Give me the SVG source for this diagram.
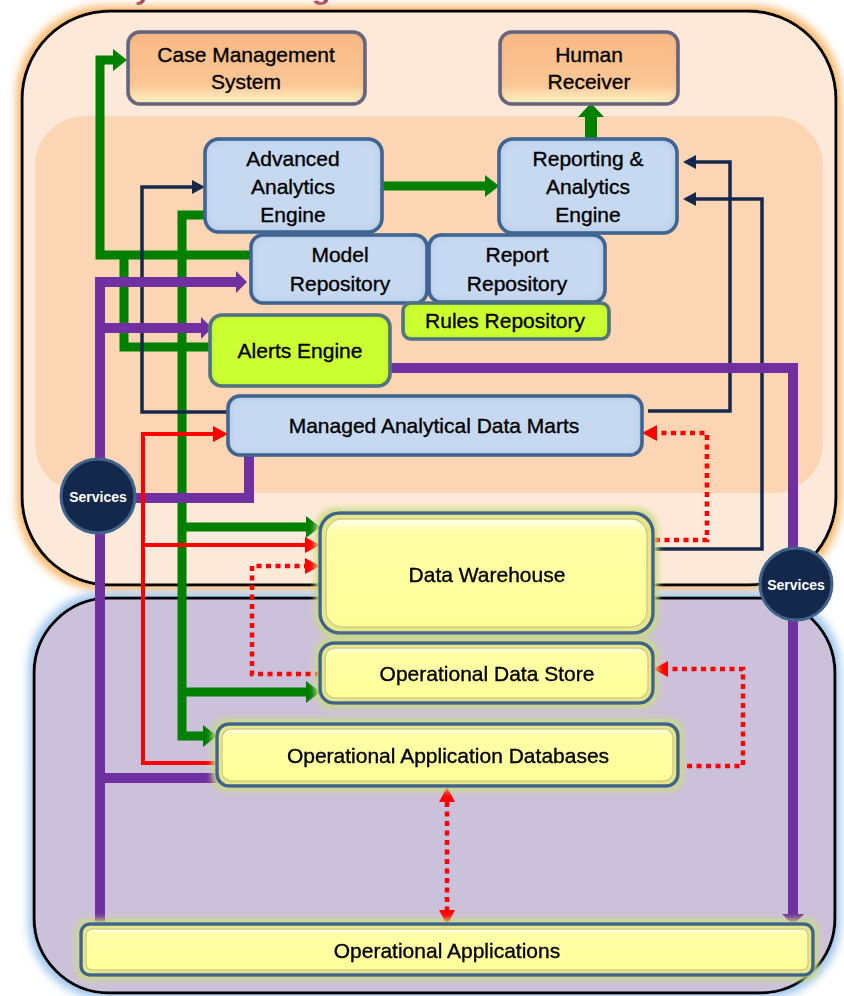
<svg xmlns="http://www.w3.org/2000/svg" width="844" height="996" viewBox="0 0 844 996">
<defs>
<style>
.t{font-family:"Liberation Sans",Arial,sans-serif;font-size:21px;fill:#000000;stroke:#000000;stroke-width:0.35;text-anchor:middle}
.svc{font-family:"Liberation Sans",Arial,sans-serif;font-size:14px;font-weight:bold;fill:#ffffff;text-anchor:middle}
.ttl{font-family:"Liberation Sans",Arial,sans-serif;font-size:30px;font-weight:bold;fill:#953565}
.g{fill:none;stroke:#008000;stroke-width:9}
.p{fill:none;stroke:#7030a0;stroke-width:10}
.n{fill:none;stroke:#14284b;stroke-width:3.5}
.r{fill:none;stroke:#ff0000;stroke-width:4}
.rd{fill:none;stroke:#ff0000;stroke-width:4.5;stroke-dasharray:5 4.5}
.blue{fill:#c6d9f1;stroke:#3e6390;stroke-width:3.5}
.orng{fill:url(#gO);stroke:#3e5f88;stroke-width:3.5}
.lime{fill:#ccff33;stroke:#3e6390;stroke-width:3.5}
.yel{fill:#e6e68a;stroke:#41648c;stroke-width:3.5}
.yin{fill:url(#gY);stroke:#d0d084;stroke-width:1.5}
.svcc{fill:#14284b;stroke:#41648c;stroke-width:3}
</style>
<linearGradient id="gO" x1="0" y1="0" x2="0" y2="1">
<stop offset="0" stop-color="#f8b985"/><stop offset="0.72" stop-color="#fbc695"/><stop offset="1" stop-color="#fff4c6"/>
</linearGradient>
<linearGradient id="gY" x1="0" y1="0" x2="0" y2="1">
<stop offset="0" stop-color="#fffff0"/><stop offset="0.12" stop-color="#ffffa8"/><stop offset="1" stop-color="#ffff99"/>
</linearGradient>
<filter id="inB" x="-10%" y="-20%" width="120%" height="140%">
<feFlood flood-color="#47699a" flood-opacity="0.6" result="f"/>
<feComposite in="f" in2="SourceAlpha" operator="out" result="o"/>
<feGaussianBlur in="o" stdDeviation="4" result="b"/>
<feComposite in="b" in2="SourceAlpha" operator="in" result="s"/>
<feMerge><feMergeNode in="SourceGraphic"/><feMergeNode in="s"/></feMerge>
</filter>
<filter id="inL" x="-10%" y="-20%" width="120%" height="140%">
<feFlood flood-color="#7f9f1a" flood-opacity="0.6" result="f"/>
<feComposite in="f" in2="SourceAlpha" operator="out" result="o"/>
<feGaussianBlur in="o" stdDeviation="4" result="b"/>
<feComposite in="b" in2="SourceAlpha" operator="in" result="s"/>
<feMerge><feMergeNode in="SourceGraphic"/><feMergeNode in="s"/></feMerge>
</filter>
<filter id="inO" x="-10%" y="-20%" width="120%" height="140%">
<feFlood flood-color="#c77e3e" flood-opacity="0.45" result="f"/>
<feComposite in="f" in2="SourceAlpha" operator="out" result="o"/>
<feGaussianBlur in="o" stdDeviation="4" result="b"/>
<feComposite in="b" in2="SourceAlpha" operator="in" result="s"/>
<feMerge><feMergeNode in="SourceGraphic"/><feMergeNode in="s"/></feMerge>
</filter>
<filter id="glowY" x="-10%" y="-30%" width="120%" height="160%">
<feMorphology in="SourceAlpha" operator="dilate" radius="3" result="d"/>
<feGaussianBlur in="d" stdDeviation="3" result="b"/>
<feFlood flood-color="#c9dc7e" result="c"/>
<feComposite in="c" in2="b" operator="in" result="g"/>
<feMerge><feMergeNode in="g"/><feMergeNode in="SourceGraphic"/></feMerge>
</filter>
<filter id="glowO" x="-5%" y="-5%" width="110%" height="110%">
<feMorphology in="SourceAlpha" operator="dilate" radius="4" result="d"/>
<feGaussianBlur in="d" stdDeviation="4" result="b"/>
<feFlood flood-color="#f8b86c" result="c"/>
<feComposite in="c" in2="b" operator="in" result="g"/>
<feMerge><feMergeNode in="g"/><feMergeNode in="SourceGraphic"/></feMerge>
</filter>
<filter id="glowB" x="-5%" y="-5%" width="110%" height="110%">
<feMorphology in="SourceAlpha" operator="dilate" radius="4" result="d"/>
<feGaussianBlur in="d" stdDeviation="4" result="b"/>
<feFlood flood-color="#9fc6ee" result="c"/>
<feComposite in="c" in2="b" operator="in" result="g"/>
<feMerge><feMergeNode in="g"/><feMergeNode in="SourceGraphic"/></feMerge>
</filter>
<marker id="mG" markerUnits="userSpaceOnUse" markerWidth="15" markerHeight="22" refX="0" refY="11" orient="auto"><path d="M0,0 L14,11 L0,22 z" fill="#008000"/></marker>
<marker id="mGb" markerUnits="userSpaceOnUse" markerWidth="15" markerHeight="26" refX="0" refY="13" orient="auto"><path d="M0,0 L14,13 L0,26 z" fill="#008000"/></marker>
<marker id="mP" markerUnits="userSpaceOnUse" markerWidth="12" markerHeight="22" refX="0" refY="11" orient="auto"><path d="M0,0 L11,11 L0,22 z" fill="#7030a0"/></marker>
<marker id="mN" markerUnits="userSpaceOnUse" markerWidth="14" markerHeight="14" refX="0" refY="7" orient="auto"><path d="M0,0 L13,7 L0,14 z" fill="#14284b"/></marker>
<marker id="mR" markerUnits="userSpaceOnUse" markerWidth="16" markerHeight="16" refX="0" refY="8" orient="auto-start-reverse"><path d="M0,0 L15,8 L0,16 z" fill="#ff0000"/></marker>
</defs>

<rect width="844" height="996" fill="#ffffff"/>
<text class="ttl" x="135" y="-1">y</text>
<text class="ttl" x="312" y="-1">g</text>

<g id="top-container" filter="url(#glowO)">
<rect x="22" y="11" width="814" height="574" rx="88" fill="#fde9d9" stroke="#000" stroke-width="3"/>
</g>
<rect id="inner-band" x="35" y="116" width="788" height="377" rx="50" fill="#fcd5b4"/>
<g id="bottom-container" filter="url(#glowB)">
<rect x="34" y="598" width="801" height="395" rx="75" fill="#ccc1da" stroke="#000" stroke-width="3"/>
</g>

<g id="connectors">
<path class="g" d="M251,255 H100 V60 H113" marker-end="url(#mG)"/>
<path class="g" d="M210,347 H124 V255"/>
<path class="g" d="M205,215 H182 V736 H203" marker-end="url(#mG)"/>
<path class="g" d="M182,527 H306" marker-end="url(#mG)"/>
<path class="g" d="M182,692 H306" marker-end="url(#mG)"/>
<path class="g" d="M382,186 H485" marker-end="url(#mG)"/>
<path class="g" style="stroke-width:12" d="M591,139 V117" marker-end="url(#mGb)"/>
<path class="n" d="M228,412 H142 V187 H192" marker-end="url(#mN)"/>
<path class="n" d="M648,411 H730 V162 H696" marker-end="url(#mN)"/>
<path class="n" d="M653,549 H762 V199 H696" marker-end="url(#mN)"/>
<path class="p" d="M100,925 V282 H236" marker-end="url(#mP)"/>
<path class="p" d="M100,328 H201" marker-end="url(#mP)"/>
<path class="p" d="M135,498 H249 V455"/>
<path class="p" d="M100,778 H217"/>
<path class="p" d="M390,368 H793 V914" marker-end="url(#mP)"/>
<path class="r" d="M217,763 H143 V434 H213" marker-end="url(#mR)"/>
<path class="r" d="M143,545 H305" marker-end="url(#mR)"/>
<path class="rd" d="M655,540 H707 V433 H657" marker-end="url(#mR)"/>
<path class="rd" d="M320,674 H252 V566 H305" marker-end="url(#mR)"/>
<path class="rd" d="M687,766 H743 V669 H668" marker-end="url(#mR)"/>
<path class="rd" d="M447,802 V910" marker-start="url(#mR)" marker-end="url(#mR)"/>
</g>

<g id="case-management-system">
<rect class="orng" x="128" y="32" width="237" height="72" rx="12" filter="url(#inO)"/>
<text class="t" x="246" y="62">Case Management</text>
<text class="t" x="246" y="89">System</text>
</g>
<g id="human-receiver">
<rect class="orng" x="500" y="32" width="178" height="72" rx="12" filter="url(#inO)"/>
<text class="t" x="589" y="62">Human</text>
<text class="t" x="589" y="89">Receiver</text>
</g>
<g id="advanced-analytics-engine">
<rect class="blue" x="205" y="139" width="177" height="93" rx="14" filter="url(#inB)"/>
<text class="t" x="293" y="166">Advanced</text>
<text class="t" x="293" y="194">Analytics</text>
<text class="t" x="293" y="222">Engine</text>
</g>
<g id="reporting-analytics-engine">
<rect class="blue" x="499" y="139" width="178" height="94" rx="14" filter="url(#inB)"/>
<text class="t" x="588" y="166">Reporting &amp;</text>
<text class="t" x="588" y="194">Analytics</text>
<text class="t" x="588" y="222">Engine</text>
</g>
<g id="model-repository">
<rect class="blue" x="251" y="235" width="176" height="68" rx="12" filter="url(#inB)"/>
<text class="t" x="340" y="262">Model</text>
<text class="t" x="340" y="291">Repository</text>
</g>
<g id="report-repository">
<rect class="blue" x="429" y="235" width="176" height="67" rx="12" filter="url(#inB)"/>
<text class="t" x="517" y="262">Report</text>
<text class="t" x="517" y="291">Repository</text>
</g>
<g id="rules-repository">
<rect class="lime" x="403" y="303" width="206" height="36" rx="8" filter="url(#inL)"/>
<text class="t" x="505" y="328">Rules Repository</text>
</g>
<g id="alerts-engine">
<rect class="lime" x="210" y="315" width="180" height="71" rx="12" filter="url(#inL)"/>
<text class="t" x="300" y="358">Alerts Engine</text>
</g>
<g id="managed-analytical-data-marts">
<rect class="blue" x="228" y="396" width="414" height="59" rx="12" filter="url(#inB)"/>
<text class="t" x="434" y="433">Managed Analytical Data Marts</text>
</g>
<g id="data-warehouse" filter="url(#glowY)">
<rect class="yel" x="320" y="513" width="333" height="120" rx="20"/>
<rect class="yin" x="326" y="519" width="321" height="108" rx="16"/>
<text class="t" x="487" y="582">Data Warehouse</text>
</g>
<g id="operational-data-store" filter="url(#glowY)">
<rect class="yel" x="320" y="643" width="333" height="60" rx="14"/>
<rect class="yin" x="325" y="648" width="323" height="50" rx="10"/>
<text class="t" x="487" y="681">Operational Data Store</text>
</g>
<g id="operational-application-databases" filter="url(#glowY)">
<rect class="yel" x="217" y="724" width="461" height="62" rx="12"/>
<rect class="yin" x="222" y="729" width="451" height="52" rx="9"/>
<text class="t" x="448" y="763">Operational Application Databases</text>
</g>
<g id="operational-applications" filter="url(#glowY)">
<rect class="yel" x="81" y="924" width="732" height="51" rx="9"/>
<rect class="yin" x="86" y="929" width="722" height="41" rx="6"/>
<text class="t" x="447" y="958">Operational Applications</text>
</g>
<g id="services-left">
<circle class="svcc" cx="98" cy="496" r="37"/>
<text class="svc" x="98" y="502">Services</text>
</g>
<g id="services-right">
<circle class="svcc" cx="796" cy="584" r="36"/>
<text class="svc" x="796" y="590">Services</text>
</g>
</svg>
